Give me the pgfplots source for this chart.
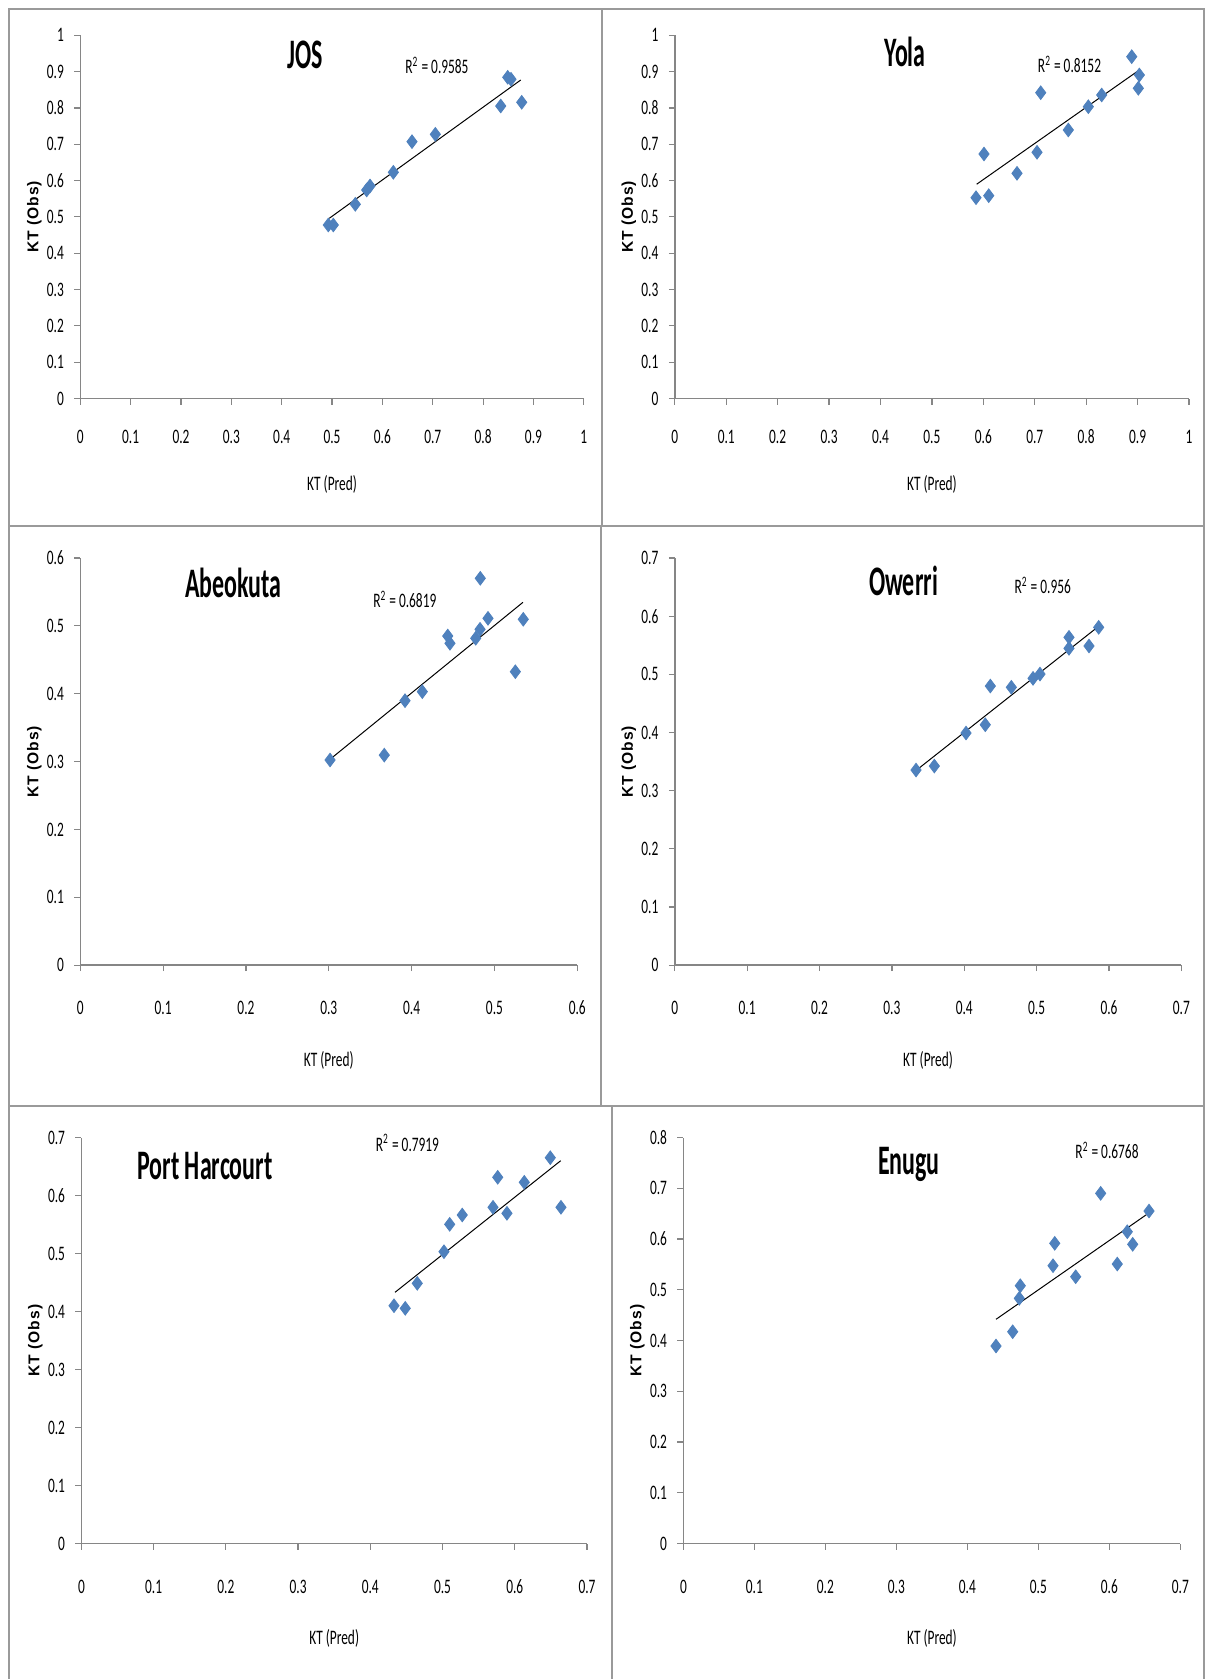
\documentclass[border=0pt]{standalone}
\usepackage{fontspec}
\usepackage{pgfplots}
\pgfplotsset{compat=1.18}
\newfontfamily\calf{Carlito}[FakeStretch=0.65]
\newfontfamily\titf{Carlito}[FakeStretch=0.57]
\newfontfamily\arif{Liberation Sans}[LetterSpace=6]
\definecolor{mk}{HTML}{4F81BD}
\definecolor{axc}{HTML}{868686}
\definecolor{frc}{HTML}{9A9A9A}
\pgfplotsset{
 panel/.style={
  scale only axis,
  axis x line=bottom, axis y line=left,
  axis line style={axc, line width=0.75pt, -},
  xmin=0, ymin=0,
  tick align=outside,
  major tick length=3pt,
  tick style={axc, line width=0.6pt},
  /pgf/number format/assume math mode=true,
  tick label style={font=\calf\fontsize{10.3}{12}\selectfont},
  yticklabel style={anchor=east, inner sep=0pt, xshift=-5pt},
  every axis y label/.style={at={(axis description cs:0,0.5)}, xshift=-23pt, rotate=90, anchor=center, font=\arif\bfseries\fontsize{7.8}{9}\selectfont},
  xlabel={KT (Pred)}, ylabel={KT (Obs)},
  clip=false,
  anchor=south west,
 },
 rowA/.style={xticklabel style={anchor=base, yshift=-19.6pt},
  every axis x label/.style={at={(axis description cs:0.5,0)}, anchor=center, yshift=-43pt, font=\calf\fontsize{10.3}{12}\selectfont}},
 rowB/.style={xticklabel style={anchor=base, yshift=-21.8pt},
  every axis x label/.style={at={(axis description cs:0.5,0)}, anchor=center, yshift=-47.5pt, font=\calf\fontsize{10.3}{12}\selectfont}},
 pts/.style={only marks, mark=diamond*, mark size=3.4pt, color=mk, mark options={fill=mk, draw=mk}},
 fit/.style={black, line width=0.5pt, no marks},
}
\begin{document}
\begin{tikzpicture}
\useasboundingbox (0,0) rectangle (602.5pt,-839.5pt);
% panel frames
\draw[frc, line width=1pt] (4.3pt,-4.3pt) rectangle (301pt,-263pt);
\draw[frc, line width=1pt] (301pt,-4.3pt) rectangle (602pt,-263pt);
\draw[frc, line width=1pt] (4.3pt,-263pt) rectangle (300.5pt,-553.2pt);
\draw[frc, line width=1pt] (300.5pt,-263pt) rectangle (602pt,-553.2pt);
\draw[frc, line width=1pt] (4.3pt,-553.2pt) rectangle (305.8pt,-845pt);
\draw[frc, line width=1pt] (305.8pt,-553.2pt) rectangle (602pt,-845pt);

% JOS
\begin{axis}[panel, rowA, at={(40.15pt,-199.25pt)}, width=251.75pt, height=181.6pt,
  xmax=1, ymax=1,
  xtick={0,0.1,0.2,0.3,0.4,0.5,0.6,0.7,0.8,0.9,1},
  ytick={0,0.1,0.2,0.3,0.4,0.5,0.6,0.7,0.8,0.9,1}]
\addplot[pts] coordinates {(0.4926,0.4777)(0.5025,0.4777)(0.5462,0.5347)(0.5688,0.5741)(0.5754,0.5851)(0.6217,0.6228)(0.6588,0.7071)(0.7051,0.7274)(0.8350,0.8053)(0.8489,0.8844)(0.8554,0.8789)(0.8767,0.8155)};
\addplot[fit] coordinates {(0.4945,0.4961)(0.8747,0.8769)};
\end{axis}

% Yola
\begin{axis}[panel, rowA, at={(337.4pt,-199.25pt)}, width=257.1pt, height=181.6pt,
  xmax=1, ymax=1,
  xtick={0,0.1,0.2,0.3,0.4,0.5,0.6,0.7,0.8,0.9,1},
  ytick={0,0.1,0.2,0.3,0.4,0.5,0.6,0.7,0.8,0.9,1}]
\addplot[pts] coordinates {(0.5858,0.5529)(0.6105,0.5584)(0.6013,0.6732)(0.6655,0.6200)(0.7044,0.6779)(0.7116,0.8420)(0.7653,0.7393)(0.8042,0.8034)(0.8302,0.8356)(0.8886,0.9411)(0.9034,0.8907)(0.9014,0.8541)};
\addplot[fit] coordinates {(0.5871,0.5900)(0.9034,0.9045)};
\end{axis}

% Abeokuta
\begin{axis}[panel, rowB, at={(40.15pt,-482.55pt)}, width=248.5pt, height=203.55pt,
  xmax=0.6, ymax=0.6,
  xtick={0,0.1,0.2,0.3,0.4,0.5,0.6},
  ytick={0,0.1,0.2,0.3,0.4,0.5,0.6}]
\addplot[pts] coordinates {(0.3015,0.3023)(0.3670,0.3095)(0.3920,0.3897)(0.4129,0.4030)(0.4436,0.4850)(0.4463,0.4743)(0.4774,0.4817)(0.4826,0.4949)(0.4829,0.5701)(0.4922,0.5111)(0.5252,0.4324)(0.5348,0.5097)};
\addplot[fit] coordinates {(0.3015,0.3033)(0.5344,0.5347)};
\end{axis}

% Owerri
\begin{axis}[panel, rowB, at={(337.4pt,-482.55pt)}, width=253.3pt, height=203.55pt,
  xmax=0.7, ymax=0.7,
  xtick={0,0.1,0.2,0.3,0.4,0.5,0.6,0.7},
  ytick={0,0.1,0.2,0.3,0.4,0.5,0.6,0.7}]
\addplot[pts] coordinates {(0.3333,0.3354)(0.3586,0.3423)(0.4024,0.3991)(0.4290,0.4133)(0.4360,0.4799)(0.4650,0.4777)(0.4950,0.4931)(0.5046,0.5005)(0.5447,0.5636)(0.5447,0.5447)(0.5723,0.5487)(0.5857,0.5808)};
\addplot[fit] coordinates {(0.3342,0.3355)(0.5838,0.5808)};
\end{axis}

% Port Harcourt
\begin{axis}[panel, rowB, at={(40.7pt,-771.75pt)}, width=252.8pt, height=203pt,
  xmax=0.7, ymax=0.7,
  xtick={0,0.1,0.2,0.3,0.4,0.5,0.6,0.7},
  ytick={0,0.1,0.2,0.3,0.4,0.5,0.6,0.7}]
\addplot[pts] coordinates {(0.4328,0.4100)(0.4484,0.4055)(0.4650,0.4486)(0.5020,0.5031)(0.5099,0.5503)(0.5273,0.5664)(0.5699,0.5797)(0.5764,0.6314)(0.5892,0.5693)(0.6132,0.6228)(0.6492,0.6652)(0.6640,0.5797)};
\addplot[fit] coordinates {(0.4342,0.4331)(0.6636,0.6600)};
\end{axis}

% Enugu
\begin{axis}[panel, rowB, at={(341.7pt,-771.75pt)}, width=248.5pt, height=203pt,
  xmax=0.7, ymax=0.8,
  xtick={0,0.1,0.2,0.3,0.4,0.5,0.6,0.7},
  ytick={0,0.1,0.2,0.3,0.4,0.5,0.6,0.7,0.8}]
\addplot[pts] coordinates {(0.5877,0.6900)(0.6558,0.6552)(0.6252,0.6144)(0.6328,0.5896)(0.6111,0.5507)(0.5230,0.5915)(0.5206,0.5474)(0.5525,0.5257)(0.4745,0.5080)(0.4731,0.4832)(0.4638,0.4173)(0.4403,0.3892)};
\addplot[fit] coordinates {(0.4403,0.4418)(0.6548,0.6506)};
\end{axis}

% titles
\begin{scope}[every node/.style={anchor=base, inner sep=0pt, font=\titf\bfseries\fontsize{21}{24}\selectfont}]
\node at (152.65pt,-34.15pt) {JOS};
\node at (452.5pt,-33.35pt) {Yola};
\node at (116.75pt,-298.85pt) {Abeokuta};
\node at (451.75pt,-297.5pt) {Owerri};
\node at (102.5pt,-589.65pt) {Port Harcourt};
\node at (454.4pt,-587pt) {Enugu};
\end{scope}
% R^2 labels
\begin{scope}[every node/.style={anchor=base, inner sep=0pt, font=\calf\fontsize{10.3}{12}\selectfont}]
\node at (218.5pt,-36.65pt) {R\textsuperscript{2} = 0.9585};
\node at (534.75pt,-36.35pt) {R\textsuperscript{2} = 0.8152};
\node at (202.4pt,-303.65pt) {R\textsuperscript{2} = 0.6819};
\node at (521.4pt,-296.65pt) {R\textsuperscript{2} = 0.956};
\node at (203.75pt,-575.5pt) {R\textsuperscript{2} = 0.7919};
\node at (553.5pt,-579.15pt) {R\textsuperscript{2} = 0.6768};
\end{scope}
\end{tikzpicture}
\end{document}
